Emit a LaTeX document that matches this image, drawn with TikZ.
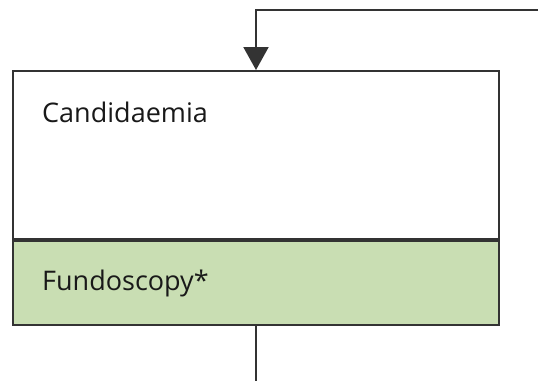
\documentclass[tikz,border=0pt]{standalone}
\usepackage{fontspec}
\setmainfont{Open Sans}
\usetikzlibrary{positioning, arrows.meta}
\definecolor{lineGray}{HTML}{333333}
\definecolor{fundGreen}{HTML}{C9DEB3}

\begin{document}
\begin{tikzpicture}[
  x=1pt, y=-1pt,
  box/.style={draw=lineGray, line width=2pt, minimum width=486pt,
              inner sep=0pt, anchor=north},
  lbl/.style={font=\fontsize{27}{32}\selectfont, text=black!90, inner sep=0pt,
              anchor=base west},
  conn/.style={draw=lineGray, line width=2pt},
]
  \useasboundingbox (0,0) rectangle (538,381);
  % main box and fundoscopy band
  \node[box, minimum height=168pt] (cand) at (256,70) {};
  \node[box, fill=fundGreen, minimum height=84pt] (fund) at (cand.south) {};
  \node[lbl] (candtxt) at ([xshift=30pt, yshift=-52pt]cand.north west) {Candidaemia};
  \node[lbl] (fundtxt) at ([xshift=30pt, yshift=-50pt]fund.north west) {Fundoscopy*};
  % connectors
  \coordinate (inRight) at (538,10);
  \coordinate (inCorner) at (256,10);
  \coordinate (outEnd) at (256,381);
  \draw[conn, -{Triangle[length=23pt, width=25pt]}] (inRight) -- (inCorner) -- (cand.north);
  \draw[conn] (fund.south) -- (outEnd);
\end{tikzpicture}
\end{document}
